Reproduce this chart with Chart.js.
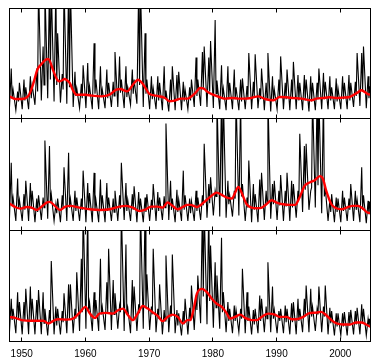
<!DOCTYPE html>
<html>
<head>
<meta charset="utf-8">
<script src="https://cdn.jsdelivr.net/npm/chart.js@4"></script>
<style>
  html, body { margin: 0; padding: 0; background: #fff; }
  #wrap { position: relative; width: 381px; height: 364px; }
  #wrap canvas { position: absolute; left: 0; top: 0; }
</style>
</head>
<body>
<div id="wrap">
  <canvas id="p1" width="381" height="364"></canvas>
  <canvas id="p2" width="381" height="364"></canvas>
  <canvas id="p3" width="381" height="364"></canvas>
</div>
<script>
// monthly series, read per year as: low before the season, first spike, dip, second spike (1948..2004)
const firstYear = 1948;
const tickYears = [1950, 1960, 1970, 1980, 1990, 2000];

const peaks1 = [
  [4.5,2.6],[2.4,3.2],[3.5,2.8],[3.8,3.0],[4.5,12],[6.5,12],[12,12],[12,7.7],[4.0,12],[12,12],
  [4.2,2.7],[3.1,4.8],[5.0,2.9],[6.8,3.5],[4.7,2.6],[4.4,3.2],[3.3,6.0],[5.6,3.5],[4.7,2.8],[4.4,3.5],
  [12,12],[7.7,3.5],[3.8,2.7],[3.8,3.2],[4.7,2.5],[3.5,4.7],[3.9,4.2],[3.3,2.6],[2.8,3.5],[5.5,3.5],
  [6.0,6.5],[5.5,7.0],[8.9,3.4],[4.8,2.7],[4.7,3.2],[4.4,2.8],[3.5,3.6],[2.9,5.9],[3.3,5.8],[2.7,4.5],
  [3.2,5.9],[3.8,2.6],[3.5,5.6],[3.2,4.4],[3.5,5.1],[3.9,3.2],[3.9,3.5],[3.8,3.2],[3.2,4.5],[4.1,3.3],
  [3.8,2.8],[3.6,2.7],[3.8,3.2],[3.9,3.2],[3.3,5.9],[5.9,6.5],[3.8,2.9]
];
const mids1 = [
  1.8,1.5,1.6,1.8,2.4,3.0,3.5,3.0,2.6,2.8,
  2.0,1.8,2.0,2.2,1.9,1.8,2.0,2.3,1.9,2.2,
  3.0,2.2,1.7,1.6,1.8,1.5,1.6,1.5,1.6,2.0,
  2.6,2.4,2.2,1.8,1.7,1.7,1.5,1.8,1.9,1.7,
  1.8,1.6,1.9,1.7,1.8,1.6,1.6,1.5,1.7,1.7,
  1.6,1.5,1.7,1.6,2.0,2.4,1.8
];
const lows1 = [
  0.9,0.7,0.8,0.8,1.2,1.6,1.8,1.5,1.4,1.3,
  1.0,0.9,0.9,0.8,0.8,0.9,1.0,1.0,0.9,1.2,
  1.3,1.0,0.8,0.8,0.7,0.6,0.7,0.7,0.8,1.0,
  1.1,1.0,0.9,0.8,0.7,0.8,0.7,0.8,0.8,0.9,
  0.7,0.6,0.8,0.8,0.7,0.8,0.7,0.6,0.7,0.8,
  0.8,0.8,0.8,0.8,1.0,1.1,0.9
];

const peaks2 = [
  [6.0,2.9],[4.6,2.7],[3.2,4.4],[4.2,3.5],[2.8,3.1],[2.9,8.0],[7.5,3.2],[2.3,2.8],[3.1,5.6],[6.9,2.8],
  [3.5,2.9],[2.8,5.3],[4.2,3.3],[5.1,2.7],[4.5,3.1],[4.2,2.9],[2.8,3.5],[3.1,6.0],[4.2,2.7],[3.2,3.9],
  [3.4,2.8],[2.9,3.2],[2.7,4.1],[3.4,2.9],[3.0,9.5],[4.4,2.8],[3.6,2.7],[5.3,3.1],[2.8,2.6],[3.5,2.9],
  [3.1,7.7],[4.1,4.7],[3.5,12],[12,12],[4.4,3.1],[3.5,12],[12,4.1],[2.9,6.2],[4.1,3.2],[4.5,5.1],
  [3.5,12],[4.1,4.4],[3.5,4.9],[3.5,5.1],[4.4,4.1],[3.5,8.6],[7.5,7.7],[3.5,12],[12,12],[12,3.8],
  [2.7,3.2],[2.9,2.8],[3.5,2.9],[2.8,4.1],[3.5,2.7],[5.6,3.1],[2.6,2.5]
];
const mids2 = [
  2.2,1.9,1.8,1.9,1.6,2.0,2.4,1.5,1.9,2.0,
  1.7,1.8,1.8,1.8,1.7,1.7,1.6,1.9,1.7,1.8,
  1.6,1.6,1.8,1.7,2.0,1.8,1.6,1.8,1.5,1.7,
  2.2,2.4,3.0,3.2,2.3,2.8,3.0,2.0,1.8,2.0,
  2.4,2.3,2.2,2.1,2.0,2.8,3.6,3.8,4.0,3.0,
  1.6,1.6,1.7,1.8,1.8,1.8,1.4
];
const lows2 = [
  1.0,0.8,0.8,0.8,0.7,0.9,1.0,0.8,0.7,0.8,
  0.8,0.8,0.7,0.7,0.7,0.7,0.8,0.8,0.9,0.8,
  0.7,0.7,0.8,0.8,0.9,0.9,0.7,0.8,0.8,0.8,
  0.9,1.1,1.3,1.2,1.1,1.2,1.3,0.8,0.7,0.7,
  0.9,1.0,0.9,0.8,0.8,1.1,1.6,1.8,2.0,1.5,
  0.8,0.7,0.7,0.8,0.8,0.7,0.6
];

const peaks3 = [
  [3.8,2.9],[4.4,3.5],[3.5,4.7],[4.9,3.8],[3.7,4.6],[4.4,2.9],[2.8,7.2],[3.1,2.9],[2.7,4.3],[5.1,5.1],
  [2.9,6.2],[7.4,12],[12,3.5],[4.4,3.7],[7.4,3.1],[5.3,8.3],[5.5,4.3],[3.2,12],[8.7,3.0],[5.5,4.9],
  [3.3,12],[12,6.0],[3.1,8.3],[2.9,5.1],[2.8,7.7],[3.2,7.8],[2.8,2.5],[2.7,3.8],[3.0,5.0],[4.1,5.9],
  [12,12],[12,8.6],[7.1,5.9],[9.3,4.4],[3.5,2.9],[3.2,2.8],[2.9,6.5],[4.4,3.1],[2.8,2.9],[4.1,3.8],
  [3.1,7.1],[4.9,2.8],[2.7,2.9],[3.2,2.9],[3.4,3.5],[3.8,2.9],[3.8,5.0],[4.7,3.1],[2.9,4.9],[3.1,5.0],
  [3.0,2.7],[2.5,2.5],[2.5,2.6],[2.6,2.8],[2.7,3.0],[3.3,2.9],[2.0,2.0]
];
const mids3 = [
  1.9,1.9,1.8,1.9,1.8,1.6,1.7,1.4,1.7,2.0,
  2.0,2.6,2.8,2.2,2.4,2.6,2.4,2.6,2.4,1.9,
  2.5,3.0,2.4,2.0,1.8,2.2,1.4,1.5,1.8,2.8,
  4.0,3.6,3.0,2.6,1.8,1.8,2.0,1.8,1.5,1.8,
  2.0,2.0,1.8,1.7,1.7,1.8,2.2,2.2,2.4,2.2,
  1.6,1.3,1.3,1.4,1.5,1.6,1.3
];
const lows3 = [
  0.8,0.7,0.6,0.6,0.6,0.6,0.5,0.6,0.6,0.7,
  0.7,0.9,1.1,0.9,0.9,1.0,1.0,1.1,0.9,0.7,
  0.9,1.1,1.0,0.8,0.6,0.8,0.7,0.5,0.6,1.0,
  1.6,1.5,1.2,1.1,0.8,0.7,0.8,0.7,0.6,0.7,
  0.8,0.8,0.7,0.7,0.6,0.6,0.8,0.8,0.9,0.8,
  0.6,0.5,0.5,0.5,0.6,0.6,0.5
];

// smoothed (red) curves
const red1Years = [1948.07,1949.0,1950.0,1951.0,1951.5,1952.0,1952.45,1953.0,1953.75,1954.17,1955.0,1955.57,1956.0,1956.77,1957.0,1957.55,1958.0,1958.6,1960.0,1961.0,1962.5,1963.8,1964.84,1965.47,1966.5,1967.66,1968.23,1969.1,1970.0,1971.1,1972.5,1973.18,1973.96,1975.0,1976.0,1976.46,1977.24,1978.02,1978.54,1979.06,1980.0,1981.0,1982.0,1983.04,1984.03,1985.0,1986.0,1987.14,1988.18,1989.48,1990.52,1991.56,1992.6,1993.9,1995.47,1996.25,1997.3,1998.33,1999.38,2000.4,2001.46,2002.76,2003.28,2004.32,2004.74];
const red1Vals  = [1.97,1.73,1.73,1.97,2.58,3.48,4.39,4.85,5.30,5.36,4.24,3.48,3.33,3.55,3.48,3.18,2.58,2.12,2.12,2.03,1.97,2.12,2.58,2.64,2.42,3.18,3.48,3.03,2.21,2.03,1.82,1.52,1.58,1.76,1.76,1.88,2.27,2.73,2.70,2.42,2.12,1.91,1.76,1.82,1.76,1.76,1.82,1.97,1.73,1.61,1.91,1.88,1.82,1.76,1.61,1.76,1.82,1.88,1.82,1.85,1.91,2.33,2.52,2.18,2.12];

const red2Years = [1948.07,1948.96,1949.74,1950.78,1951.56,1952.34,1953.13,1953.9,1954.43,1955.2,1956.0,1956.77,1957.55,1959.1,1960.7,1962.24,1963.8,1965.36,1966.4,1967.45,1968.5,1969.5,1970.3,1971.35,1972.1,1972.9,1973.7,1974.5,1975.3,1976.0,1976.46,1977.5,1978.54,1979.58,1980.63,1981.4,1982.2,1983.0,1983.5,1984.0,1984.5,1985.3,1986.1,1986.9,1987.7,1988.4,1989.2,1990.0,1991.0,1992.1,1992.9,1993.6,1994.4,1995.2,1996.0,1996.8,1997.3,1997.8,1998.6,1999.4,2000.2,2001.0,2002.0,2002.8,2003.5,2004.3,2004.74];
const red2Vals  = [2.36,2.06,1.91,2.06,2.0,1.79,2.09,2.45,2.51,2.15,1.79,2.06,2.15,2.0,1.85,1.79,1.85,2.09,2.15,2.0,1.70,1.85,2.09,2.09,2.0,2.45,2.15,1.85,2.06,2.24,2.24,2.06,2.45,2.96,3.34,3.13,2.90,2.81,3.34,3.85,3.34,2.30,2.0,1.94,2.0,2.30,2.66,2.45,2.30,2.24,2.24,2.90,3.94,4.24,4.45,4.81,4.54,3.49,2.30,1.94,1.85,2.0,2.15,2.15,1.94,1.55,1.52];

const red3Years = [1948.07,1948.96,1950.0,1951.8,1953.4,1954.2,1954.95,1955.7,1957.0,1958.07,1959.1,1960.0,1960.7,1961.5,1962.2,1963.3,1964.3,1965.1,1965.9,1966.7,1967.45,1968.2,1969.0,1969.8,1970.6,1971.35,1972.1,1972.9,1973.7,1974.5,1975.3,1976.0,1976.46,1977.0,1977.5,1978.3,1979.06,1979.84,1980.6,1981.4,1982.2,1982.7,1983.5,1984.3,1985.05,1986.1,1986.9,1987.65,1988.7,1989.74,1990.5,1991.56,1992.34,1993.1,1994.2,1994.95,1996.25,1997.0,1997.8,1998.6,1999.4,2000.4,2001.5,2002.5,2003.3,2004.06,2004.74];
const red3Vals  = [2.17,2.08,1.88,1.82,1.82,1.58,1.82,1.96,1.93,2.02,2.56,3.07,2.47,2.08,2.47,2.53,2.47,2.77,2.92,2.32,1.88,2.47,3.15,2.92,2.56,2.26,1.79,2.17,2.38,2.17,1.58,1.88,1.88,2.92,4.26,4.70,4.40,3.81,3.36,3.07,2.47,2.02,2.17,2.38,2.08,1.88,1.88,2.17,2.47,2.38,2.17,2.17,1.96,1.96,2.17,2.47,2.56,2.62,2.32,1.88,1.58,1.49,1.49,1.67,1.67,1.49,1.28];

function blackPoints(peaks, mids, lows){
  const pts = [];
  peaks.forEach((p, i) => {
    const yr = firstYear + i;
    pts.push({x: yr + 0.08, y: lows[i]}, {x: yr + 0.36, y: p[0]},
             {x: yr + 0.5, y: mids[i]}, {x: yr + 0.64, y: p[1]});
  });
  return pts;
}

// frame + inward tick marks on every panel
const framePlugin = {
  id: 'frame',
  afterDraw(chart){
    const {ctx, chartArea: a} = chart;
    const x = chart.scales.x;
    const l = Math.floor(a.left) + 0.5, r = Math.floor(a.right) + 0.5;
    const t = Math.floor(a.top) + 0.5, b = Math.floor(a.bottom) + 0.5;
    ctx.save();
    ctx.strokeStyle = '#000';
    ctx.lineWidth = 1;
    ctx.strokeRect(l, t, r - l, b - t);
    ctx.beginPath();
    tickYears.forEach(v => {
      const px = Math.floor(x.getPixelForValue(v)) + 0.5;
      ctx.moveTo(px, t); ctx.lineTo(px, t + 4);
      ctx.moveTo(px, b); ctx.lineTo(px, b - 4);
    });
    ctx.stroke();
    ctx.restore();
  }
};

const panels = [
  {id: 'p1', peaks: peaks1, mids: mids1, lows: lows1, rx: red1Years, ry: red1Vals, top: 8,   bottom: 118},
  {id: 'p2', peaks: peaks2, mids: mids2, lows: lows2, rx: red2Years, ry: red2Vals, top: 118, bottom: 230},
  {id: 'p3', peaks: peaks3, mids: mids3, lows: lows3, rx: red3Years, ry: red3Vals, top: 230, bottom: 341}
];

panels.forEach((p, k) => {
  const last = k === panels.length - 1;
  new Chart(document.getElementById(p.id), {
    type: 'line',
    data: {
      datasets: [
        { data: p.rx.map((x, i) => ({x, y: p.ry[i]})), borderColor: '#ff0000', borderWidth: 2.4,
          pointRadius: 0, cubicInterpolationMode: 'monotone', order: 0 },
        { data: blackPoints(p.peaks, p.mids, p.lows), borderColor: '#000', borderWidth: 1.1,
          pointRadius: 0, tension: 0, order: 1 }
      ]
    },
    options: {
      responsive: false,
      animation: false,
      devicePixelRatio: 1,
      layout: { padding: { left: 9.5, right: 10.5, top: p.top, bottom: last ? 0 : 364 - p.bottom } },
      plugins: { legend: { display: false }, tooltip: { enabled: false } },
      scales: {
        x: {
          type: 'linear', min: 1948.085, max: 2004.74,
          display: last,
          grid: { display: false },
          border: { display: false },
          afterBuildTicks: s => { s.ticks = tickYears.map(v => ({value: v})); },
          afterFit: s => { if (last) s.height = 364 - p.bottom; },
          ticks: { color: '#000', padding: -1, maxRotation: 0, autoSkip: false,
                   font: { family: 'Liberation Sans', size: 10 }, callback: v => String(v) }
        },
        y: { min: 0, max: 10, display: false }
      }
    },
    plugins: [framePlugin]
  });
});
</script>
</body>
</html>
